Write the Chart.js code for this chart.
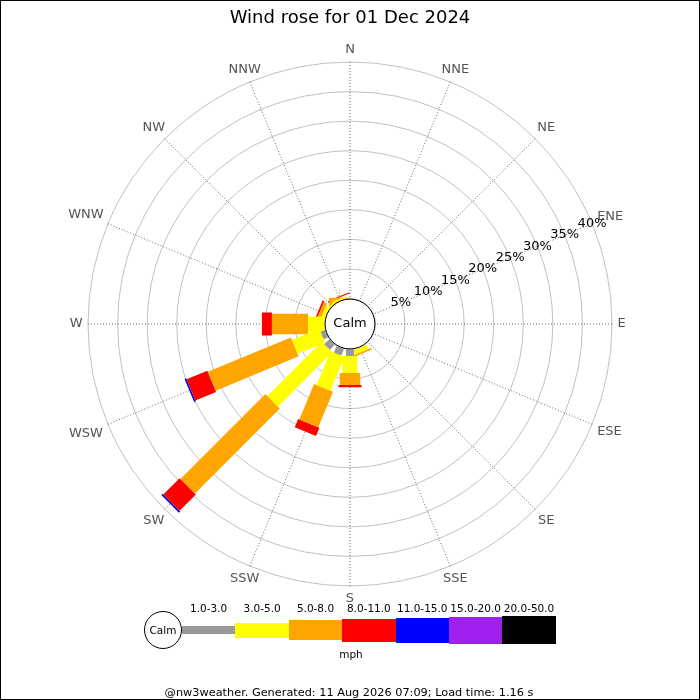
<!DOCTYPE html>
<html>
<head>
<meta charset="utf-8">
<script src="https://cdn.jsdelivr.net/npm/chart.js@4.4.1/dist/chart.umd.min.js"></script>
<style>
  body { margin: 0; background: #fff; font-family: "DejaVu Sans", sans-serif; }
  #wrap { position: relative; width: 700px; height: 700px; border: 1px solid #000; box-sizing: border-box; overflow: hidden; }
  #rose { position: absolute; left: -1px; top: -1px; }
  #legend { position: absolute; left: 143px; top: 599px; height: 60px; display: flex; align-items: center; }
  #legend .calm { width: 36px; height: 36px; border: 1px solid #000; border-radius: 50%; display: flex; align-items: center; justify-content: center; font-size: 10.5px; background: #fff; }
  #legend .bin { position: relative; width: 53.4px; height: 60px; display: flex; align-items: center; }
  #legend .bin span { position: absolute; left: 50%; top: 1.5px; transform: translateX(-50%); font-size: 10.5px; white-space: nowrap; }
  #legend .bin i { display: block; width: 100%; }
  #unit { position: absolute; left: 0; width: 700px; top: 647px; text-align: center; font-size: 10.5px; }
  #footer { position: absolute; left: 0; width: 696px; top: 685px; text-align: center; font-size: 11.3px; }
</style>
</head>
<body>
<div id="wrap">
  <canvas id="rose" width="700" height="700"></canvas>
  <div id="legend"></div>
  <div id="unit">mph</div>
  <div id="footer">@nw3weather. Generated: 11 Aug 2026 07:09; Load time: 1.16 s</div>
</div>
<script>
// Directions, clockwise from north.
const directions = ['N', 'NNE', 'NE', 'ENE', 'E', 'ESE', 'SE', 'SSE',
                    'S', 'SSW', 'SW', 'WSW', 'W', 'WNW', 'NW', 'NNW'];

// Speed bins (mph) and the share of the day (%) per direction for each bin.
const speedBins = ['1.0-3.0', '3.0-5.0', '5.0-8.0', '8.0-11.0', '11.0-15.0', '15.0-20.0', '20.0-50.0'];
//                 N    NNE  NE   ENE  E    ESE  SE   SSE  S    SSW  SW    WSW   W    WNW  NW   NNW
const pct1to3   = [0,   0,   0,   0,   0,   0,   0,   0,   1.1, 1.2, 1.2,  0.8,  0,   0,   0,   0];
const pct3to5   = [0,   0,   0,   0,   0,   0,   0,   0.8, 2.9, 6.2, 13.0, 5.0,  2.8, 0.6, 0.3, 0.3];
const pct5to8   = [0,   0,   0,   0,   0,   0,   0,   0.3, 2.0, 6.5, 20.3, 15.2, 6.1, 0.6, 0,   0.2];
const pct8to11  = [0,   0,   0,   0,   0,   0,   0,   0,   0.4, 1.5, 3.9,  3.8,  1.7, 0.3, 0,   0.2];
const pct11to15 = [0,   0,   0,   0,   0,   0,   0,   0,   0,   0,   0.3,  0.3,  0,   0,   0,   0];
const pct15to20 = [0,   0,   0,   0,   0,   0,   0,   0,   0,   0,   0,    0,    0,   0,   0,   0];
const pct20to50 = [0,   0,   0,   0,   0,   0,   0,   0,   0,   0,   0,    0,    0,   0,   0,   0];
const binSeries = [pct1to3, pct3to5, pct5to8, pct8to11, pct11to15, pct15to20, pct20to50];

// Radial tick values (percent).
const radialTicks = [5, 10, 15, 20, 25, 30, 35, 40];

const binColors = ['#999999', '#ffff00', '#ffa500', '#ff0000', '#0000ff', '#a020f0', '#000000'];
const binWidths = [8, 15, 20.5, 23, 25, 27, 28.3];

const R_MIN = -4.3;   // leaves room in the middle for the calm circle
const R_MAX = 40;
const FONT = '"DejaVu Sans", sans-serif';

/** Build one dataset per speed bin: a radial segment per direction, stacked. */
function buildDatasets() {
    const base = directions.map(() => 0);

    return binSeries.map((series, k) => {
        const points = [];
        series.forEach((value, i) => {
            const from = base[i];
            const to = from + value;
            base[i] = to;
            if (!value) return;
            const angle = i * 2 * Math.PI / directions.length;
            [from, to].forEach((pct) => {
                const u = pct - R_MIN;
                points.push({ x: u * Math.sin(angle), y: u * Math.cos(angle) });
            });
            points.push({ x: NaN, y: NaN });
        });

        return {
            label: speedBins[k],
            type: 'line',
            data: points,
            showLine: true,
            borderColor: binColors[k],
            backgroundColor: binColors[k],
            borderWidth: binWidths[k],
            borderCapStyle: 'butt',
            pointRadius: 0,
            pointHitRadius: 0,
            tension: 0,
            spanGaps: false,
            clip: false,
        };
    });
}

/** Make the hidden x/y axes share the radial scale's centre and unit. */
const alignToRadial = {
    id: 'alignToRadial',
    afterLayout(chart) {
        const r = chart.scales.r;
        const x = chart.scales.x;
        const y = chart.scales.y;
        const k = r.drawingArea / (r.max - r.min);
        x.min = (x.left - r.xCenter) / k;
        x.max = (x.right - r.xCenter) / k;
        y.min = (r.yCenter - y.bottom) / k;
        y.max = (r.yCenter - y.top) / k;
        x.configure();
        y.configure();
    },
};

/**
 * Direction labels centred just outside the outer ring (matplotlib style),
 * the percentage labels along ENE and the calm circle in the middle.
 */
const roseDecor = {
    id: 'roseDecor',
    afterDraw(chart) {
        const r = chart.scales.r;
        const ctx = chart.ctx;
        const outer = r.getDistanceFromCenterForValue(r.max);
        ctx.save();
        ctx.textAlign = 'center';
        ctx.textBaseline = 'middle';

        ctx.font = '13px ' + FONT;
        ctx.fillStyle = '#555';
        chart.data.labels.forEach((label, i) => {
            const a = r.getIndexAngle(i);
            const halfW = ctx.measureText(label).width / 2;
            const halfH = 7;
            const sin = Math.abs(Math.sin(a));
            const cos = Math.abs(Math.cos(a));
            const extent = Math.min(sin > 1e-6 ? halfW / sin : Infinity, cos > 1e-6 ? halfH / cos : Infinity);
            const p = r.getPointPosition(i, outer + 5.5 + extent);
            ctx.fillText(label, p.x, p.y);
        });

        ctx.fillStyle = '#000';
        radialTicks.forEach((v) => {
            const p = r.getPointPositionForValue(3, v);
            ctx.fillText(v + '%', p.x, p.y);
        });

        const radius = r.getDistanceFromCenterForValue(0) - 0.5;
        ctx.beginPath();
        ctx.arc(r.xCenter, r.yCenter, radius, 0, 2 * Math.PI);
        ctx.fillStyle = '#fff';
        ctx.fill();
        ctx.lineWidth = 1;
        ctx.strokeStyle = '#000';
        ctx.stroke();
        ctx.fillStyle = '#000';
        ctx.fillText('Calm', r.xCenter, r.yCenter);

        ctx.restore();
    },
};

function buildLegend() {
    const legend = document.getElementById('legend');
    const calm = document.createElement('div');
    calm.className = 'calm';
    calm.textContent = 'Calm';
    legend.appendChild(calm);

    speedBins.forEach((bin, k) => {
        const cell = document.createElement('div');
        cell.className = 'bin';
        const label = document.createElement('span');
        label.textContent = bin;
        const swatch = document.createElement('i');
        swatch.style.background = binColors[k];
        swatch.style.height = binWidths[k] + 'px';
        cell.appendChild(label);
        cell.appendChild(swatch);
        legend.appendChild(cell);
    });
}

document.addEventListener('DOMContentLoaded', () => {
    buildLegend();

    new Chart(document.getElementById('rose'), {
        type: 'scatter',
        data: {
            labels: directions,
            datasets: buildDatasets(),
        },
        options: {
            responsive: false,
            animation: false,
            layout: { padding: { left: 88, right: 88, top: 0, bottom: 114 } },
            plugins: {
                legend: { display: false },
                tooltip: { enabled: false },
                title: {
                    display: true,
                    text: 'Wind rose for 01 Dec 2024',
                    color: '#000',
                    font: { family: FONT, size: 18, weight: 'normal' },
                    padding: { top: 8, bottom: 32.4 },
                },
            },
            scales: {
                x: { type: 'linear', display: false },
                y: { type: 'linear', display: false },
                r: {
                    type: 'radialLinear',
                    min: R_MIN,
                    max: R_MAX,
                    startAngle: 0,
                    ticks: { display: false, stepSize: 5 },
                    grid: { circular: true, color: '#b0b0b0', lineWidth: 0.8 },
                    angleLines: { color: '#444', lineWidth: 0.8, borderDash: [1, 2] },
                    pointLabels: { display: false },
                },
            },
        },
        plugins: [alignToRadial, roseDecor],
    });
});
</script>
</body>
</html>
